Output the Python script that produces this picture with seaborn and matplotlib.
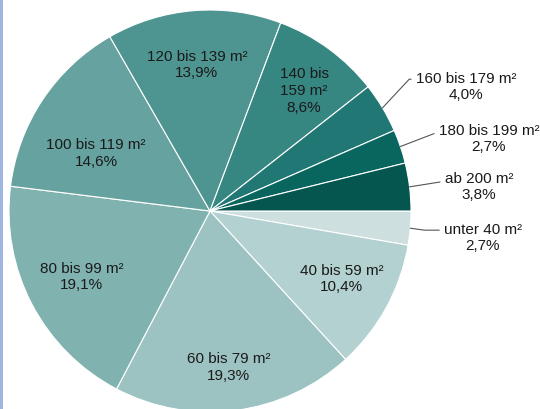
import numpy as np
import matplotlib
matplotlib.use("Agg")
import matplotlib.pyplot as plt
import seaborn as sns
from matplotlib.patches import Rectangle

# Wohnflaeche - Anteile in %
categories = ["unter 40 m²", "40 bis 59 m²", "60 bis 79 m²", "80 bis 99 m²",
              "100 bis 119 m²", "120 bis 139 m²", "140 bis\n159 m²",
              "160 bis 179 m²", "180 bis 199 m²", "ab 200 m²"]
shares = [2.7, 10.4, 19.3, 19.1, 14.6, 13.9, 8.6, 4.0, 2.7, 3.8]
colors = ["#cde0df", "#b3d1d0", "#9cc3c2", "#80b2b0", "#66a3a0",
          "#4e9591", "#368682", "#207773", "#08665f", "#04564f"]

# label centres (data units, pie radius = 1); None -> outside label
inner_pos = [None, (0.655, -0.333), (0.094, -0.774), (-0.64, -0.323),
             (-0.567, 0.291), (-0.065, 0.731), (0.468, 0.602), None, None, None]
outer_pos = [(1.358, -0.129), None, None, None, None, None, None,
             (1.274, 0.622), (1.388, 0.363), (1.338, 0.124)]
leader_angle = [-8, None, None, None, None, None, None, 47, 21, 9]

sns.set_theme(style="white")
plt.rcParams["font.family"] = ["Liberation Sans", "DejaVu Sans"]

fig = plt.figure(figsize=(5.4, 4.1), dpi=100)
fig.patch.set_facecolor("white")
ax = fig.add_axes([9 / 540, -3 / 410, 402 / 540, 402 / 410])

wedges, _ = ax.pie(shares, colors=sns.color_palette(colors), startangle=0,
                   counterclock=False, radius=1,
                   wedgeprops=dict(edgecolor="white", linewidth=0.8))
ax.set_xlim(-1, 1)
ax.set_ylim(-1, 1)
ax.set_aspect("auto")
ax.axis("off")

fs = 11
ls = 1.25
for i, w in enumerate(wedges):
    txt = categories[i] + "\n" + f"{shares[i]:.1f}".replace(".", ",") + "%"
    if inner_pos[i] is not None:
        ax.text(*inner_pos[i], txt, ha="center", va="center", fontsize=fs,
                color="#1a1a1a", linespacing=ls)
    else:
        mid = np.deg2rad((w.theta1 + w.theta2) / 2)
        edge = (np.cos(mid), np.sin(mid))
        ax.annotate(txt, xy=edge, xytext=outer_pos[i], ha="center", va="center",
                    fontsize=fs, color="#1a1a1a", linespacing=ls,
                    annotation_clip=False,
                    arrowprops=dict(arrowstyle="-", color="#555555", lw=0.8,
                                    shrinkA=1, shrinkB=0, relpos=(0, 0.72),
                                    connectionstyle=f"angle,angleA=180,angleB={leader_angle[i]},rad=0"))

# thin blue border on the left
fig.patches.append(Rectangle((0, 0), 3 / 540, 1, transform=fig.transFigure,
                             facecolor="#9fb5df", edgecolor="none"))

fig.savefig("out.png", dpi=100)
